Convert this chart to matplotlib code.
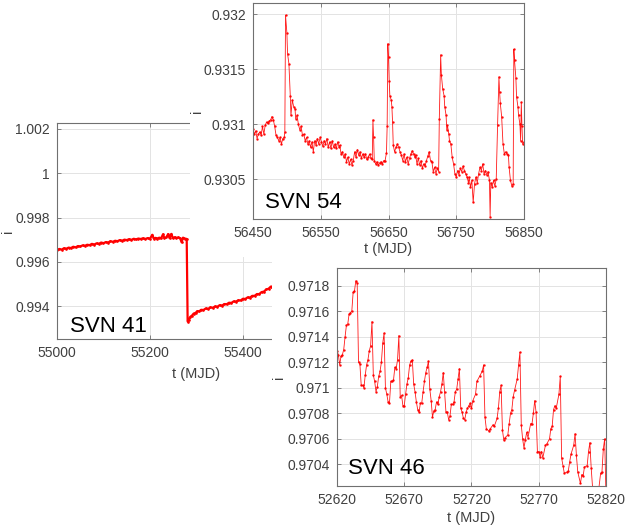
import matplotlib
matplotlib.use("Agg")
import matplotlib.pyplot as plt
from matplotlib.patches import Rectangle
from matplotlib.ticker import FormatStrFormatter

plt.rcParams['font.family'] = ['Liberation Sans', 'DejaVu Sans']

# SVN 41
t41 = [55000, 55005, 55010, 55015, 55020, 55025, 55030, 55035, 55040, 55045,
       55050, 55055, 55060, 55065, 55070, 55075, 55080, 55085, 55090, 55095,
       55100, 55105, 55110, 55115, 55120, 55125, 55130, 55135, 55140, 55145,
       55150, 55155, 55160, 55165, 55170, 55175, 55180, 55185, 55190, 55195,
       55200, 55205, 55208, 55212, 55216, 55220, 55224, 55228, 55231, 55235,
       55239, 55242, 55246, 55249, 55253, 55257, 55261, 55265, 55268, 55271,
       55275, 55279,
       55281, 55284, 55287, 55290, 55294, 55298, 55302, 55306, 55310, 55315,
       55320, 55325, 55330, 55335, 55340, 55345, 55350, 55355, 55360, 55365,
       55370, 55375, 55380, 55385, 55390, 55395, 55400, 55405, 55410, 55415,
       55420, 55425, 55430, 55435, 55440, 55445, 55450, 55455, 55460, 55463]
i41 = [0.99652, 0.99658, 0.99655, 0.99661, 0.99659, 0.99664, 0.99662, 0.99668, 0.99665, 0.99671,
       0.99669, 0.99674, 0.99672, 0.99677, 0.99675, 0.99681, 0.99678, 0.99683, 0.99681, 0.99687,
       0.99684, 0.99689, 0.99687, 0.99693, 0.99690, 0.99695, 0.99693, 0.99698, 0.99695, 0.99700,
       0.99698, 0.99702, 0.99699, 0.99704, 0.99701, 0.99705, 0.99703, 0.99706, 0.99703, 0.99707,
       0.99704, 0.99722, 0.99705, 0.99708, 0.99705, 0.99709, 0.99706, 0.99724, 0.99707, 0.99710,
       0.99725, 0.99707, 0.99726, 0.99708, 0.99711, 0.99707, 0.99710, 0.99706, 0.99688, 0.99709,
       0.99705, 0.99703,
       0.99330, 0.99338, 0.99352, 0.99356, 0.99366, 0.99369, 0.99377, 0.99376, 0.99383, 0.99382,
       0.99389, 0.99387, 0.99394, 0.99392, 0.99398, 0.99397, 0.99404, 0.99402, 0.99409, 0.99408,
       0.99415, 0.99414, 0.99421, 0.99420, 0.99426, 0.99425, 0.99433, 0.99432, 0.99439, 0.99438,
       0.99446, 0.99446, 0.99454, 0.99454, 0.99463, 0.99465, 0.99475, 0.99478, 0.99488, 0.99488]

# SVN 54
t54 = [56450, 56452, 56454, 56456, 56458, 56460, 56462, 56464, 56466, 56468,
       56470, 56472, 56474, 56476, 56478, 56480, 56482, 56484, 56486, 56488,
       56490, 56492, 56494, 56496, 56497, 56498, 56500, 56501, 56503, 56505,
       56506, 56508, 56510, 56512, 56513, 56515, 56517, 56519, 56521, 56523,
       56525, 56527, 56529, 56531, 56533, 56535, 56537, 56539, 56541, 56543,
       56545, 56547, 56549, 56551, 56553, 56555, 56557, 56559, 56561, 56563,
       56565, 56567, 56569, 56571, 56573, 56575, 56577, 56578, 56580, 56582,
       56584, 56586, 56588, 56590, 56592, 56594, 56596, 56598, 56600, 56602,
       56604, 56606, 56608, 56610, 56612, 56614, 56616, 56618, 56620, 56622,
       56624, 56626, 56627, 56628, 56629, 56631, 56633, 56635, 56637, 56639,
       56641, 56643, 56645, 56647, 56648, 56649, 56650, 56651, 56652, 56654,
       56655, 56656, 56657, 56659, 56661, 56663, 56665, 56667, 56669, 56671,
       56673, 56675, 56677, 56679, 56681, 56683, 56685, 56687, 56689, 56690,
       56692, 56694, 56696, 56698, 56700, 56702, 56704, 56706, 56708, 56710,
       56712, 56714, 56716, 56718, 56720, 56722, 56724, 56725, 56727, 56728,
       56730, 56732, 56733, 56735, 56736, 56737, 56739, 56740, 56742, 56744,
       56746, 56748, 56750, 56752, 56754, 56756, 56758, 56760, 56762, 56764,
       56766, 56768, 56769, 56771, 56773, 56775, 56777, 56779, 56781, 56783,
       56785, 56787, 56789, 56791, 56793, 56795, 56797, 56799, 56800, 56801,
       56803, 56805, 56807, 56809, 56811, 56813, 56814, 56815, 56817, 56819,
       56821, 56823, 56825, 56827, 56828, 56830, 56832, 56834, 56835, 56836,
       56838, 56839, 56841, 56842, 56844, 56845, 56846, 56847, 56848, 56850]
i54 = [0.93096, 0.93091, 0.93094, 0.93087, 0.93091, 0.93093, 0.93090, 0.93098, 0.93091, 0.93099,
       0.93102, 0.93101, 0.93103, 0.93104, 0.93107, 0.93104, 0.93098, 0.93090, 0.93088, 0.93085,
       0.93088, 0.93082, 0.93087, 0.93088, 0.93093, 0.93199, 0.93183, 0.93164, 0.93155, 0.93126,
       0.93108, 0.93122, 0.93116, 0.93114, 0.93105, 0.93108, 0.93100, 0.93095, 0.93098, 0.93090,
       0.93091, 0.93085, 0.93088, 0.93082, 0.93085, 0.93079, 0.93084, 0.93075, 0.93085, 0.93081,
       0.93087, 0.93082, 0.93088, 0.93084, 0.93080, 0.93085, 0.93082, 0.93087, 0.93079, 0.93084,
       0.93078, 0.93085, 0.93079, 0.93082, 0.93078, 0.93084, 0.93079, 0.93081, 0.93073, 0.93075,
       0.93070, 0.93073, 0.93066, 0.93070, 0.93064, 0.93068, 0.93063, 0.93067, 0.93075, 0.93070,
       0.93077, 0.93072, 0.93075, 0.93069, 0.93073, 0.93070, 0.93073, 0.93068, 0.93070, 0.93073,
       0.93069, 0.93068, 0.93104, 0.93088, 0.93067, 0.93064, 0.93066, 0.93063, 0.93065, 0.93066,
       0.93064, 0.93067, 0.93067, 0.93074, 0.93098, 0.93173, 0.93161, 0.93139, 0.93126, 0.93122,
       0.93116, 0.93102, 0.93081, 0.93075, 0.93079, 0.93082, 0.93079, 0.93075, 0.93072, 0.93067,
       0.93073, 0.93066, 0.93070, 0.93064, 0.93069, 0.93073, 0.93076, 0.93073, 0.93070, 0.93072,
       0.93064, 0.93069, 0.93063, 0.93067, 0.93060, 0.93064, 0.93062, 0.93067, 0.93071, 0.93075,
       0.93067, 0.93066, 0.93057, 0.93061, 0.93055, 0.93060, 0.93057, 0.93105, 0.93163, 0.93145,
       0.93132, 0.93126, 0.93116, 0.93108, 0.93095, 0.93099, 0.93091, 0.93085, 0.93082, 0.93070,
       0.93064, 0.93055, 0.93052, 0.93058, 0.93054, 0.93060, 0.93057, 0.93062, 0.93058, 0.93055,
       0.93052, 0.93047, 0.93052, 0.93043, 0.93049, 0.93029, 0.93046, 0.93052, 0.93047, 0.93055,
       0.93061, 0.93058, 0.93064, 0.93055, 0.93058, 0.93054, 0.93057, 0.93049, 0.93016, 0.93047,
       0.93043, 0.93049, 0.93044, 0.93050, 0.93099, 0.93143, 0.93129, 0.93119, 0.93107, 0.93082,
       0.93073, 0.93075, 0.93073, 0.93072, 0.93061, 0.93049, 0.93044, 0.93046, 0.93168, 0.93158,
       0.93142, 0.93125, 0.93116, 0.93108, 0.93100, 0.93085, 0.93120, 0.93098, 0.93082, 0.93084]

# SVN 46
t46 = [52620, 52621, 52622, 52623, 52624, 52625, 52626, 52627, 52628, 52629,
       52630, 52631, 52632, 52633, 52634, 52635, 52636, 52637, 52638, 52639,
       52640, 52641, 52642, 52643, 52644, 52645, 52646, 52647, 52648, 52649,
       52650, 52651, 52652, 52653, 52654, 52655, 52656, 52657, 52658, 52659,
       52660, 52661, 52662, 52663, 52664, 52665, 52666, 52667, 52668, 52669,
       52670, 52671, 52672, 52673, 52674, 52675, 52676, 52677, 52678, 52679,
       52680, 52681, 52682, 52683, 52684, 52685, 52686, 52687, 52688, 52689,
       52690, 52691, 52692, 52693, 52694, 52695, 52696, 52697, 52698, 52699,
       52700, 52701, 52702, 52703, 52704, 52705, 52706, 52707, 52708, 52709,
       52710, 52711, 52712, 52713, 52714, 52715, 52716, 52717, 52718, 52719,
       52720, 52721, 52723, 52724, 52726, 52728, 52729, 52730, 52731, 52733,
       52734, 52736, 52737, 52739, 52740, 52741, 52742, 52743, 52744, 52745,
       52747, 52748, 52749, 52750, 52751, 52752, 52754, 52755, 52756, 52757,
       52758, 52759, 52760, 52761, 52762, 52764, 52765, 52766, 52767, 52768,
       52769, 52770, 52771, 52772, 52773, 52775, 52776, 52778, 52779, 52780,
       52781, 52782, 52783, 52785, 52786, 52787, 52788, 52789, 52791, 52792,
       52793, 52794, 52796, 52797, 52798, 52799, 52801, 52802, 52803, 52804,
       52806, 52807, 52808, 52809, 52810, 52812, 52814, 52816, 52817, 52818,
       52819, 52820]
i46 = [0.97129, 0.97126, 0.97118, 0.97125, 0.97126, 0.97130, 0.97140, 0.97149, 0.97150, 0.97158,
       0.97159, 0.97160, 0.97175, 0.97176, 0.97184, 0.97182, 0.97120, 0.97119, 0.97102, 0.97102,
       0.97100, 0.97110, 0.97118, 0.97122, 0.97129, 0.97133, 0.97152, 0.97110, 0.97105, 0.97097,
       0.97101, 0.97109, 0.97113, 0.97120, 0.97135, 0.97143, 0.97100, 0.97095, 0.97089, 0.97088,
       0.97105, 0.97105, 0.97106, 0.97116, 0.97115, 0.97122, 0.97141, 0.97093, 0.97094, 0.97086,
       0.97086, 0.97095, 0.97103, 0.97108, 0.97118, 0.97121, 0.97122, 0.97103, 0.97097, 0.97089,
       0.97083, 0.97081, 0.97088, 0.97088, 0.97097, 0.97105, 0.97112, 0.97116, 0.97121, 0.97099,
       0.97090, 0.97077, 0.97082, 0.97083, 0.97089, 0.97087, 0.97093, 0.97097, 0.97103, 0.97112,
       0.97097, 0.97081, 0.97081, 0.97075, 0.97078, 0.97087, 0.97087, 0.97089, 0.97097, 0.97099,
       0.97107, 0.97115, 0.97084, 0.97081, 0.97076, 0.97075, 0.97081, 0.97084, 0.97086, 0.97088,
       0.97084, 0.97090, 0.97095, 0.97105, 0.97109, 0.97113, 0.97118, 0.97077, 0.97068, 0.97066,
       0.97068, 0.97071, 0.97070, 0.97076, 0.97084, 0.97097, 0.97102, 0.97067, 0.97059, 0.97061,
       0.97063, 0.97072, 0.97080, 0.97083, 0.97093, 0.97098, 0.97107, 0.97118, 0.97128, 0.97071,
       0.97060, 0.97053, 0.97059, 0.97065, 0.97061, 0.97072, 0.97072, 0.97080, 0.97090, 0.97081,
       0.97050, 0.97050, 0.97046, 0.97050, 0.97045, 0.97055, 0.97056, 0.97060, 0.97068, 0.97070,
       0.97083, 0.97086, 0.97084, 0.97095, 0.97109, 0.97045, 0.97039, 0.97033, 0.97034, 0.97035,
       0.97042, 0.97048, 0.97055, 0.97064, 0.97047, 0.97034, 0.97025, 0.97032, 0.97031, 0.97038,
       0.97039, 0.97050, 0.97057, 0.97037, 0.97022, 0.97012, 0.97015, 0.97033, 0.97034, 0.97052,
       0.97060, 0.97015]

W, H = 625, 531
fig = plt.figure(figsize=(W / 100, H / 100), dpi=100)


def px_axes(x0, y0, x1, y1, z):
    # pixel box (top-left origin) -> figure axes
    ax = fig.add_axes([x0 / W, 1 - y1 / H, (x1 - x0) / W, (y1 - y0) / H])
    ax.set_zorder(z)
    return ax


def px_block(x0, y0, x1, y1, z):
    r = Rectangle((x0 / W, 1 - y1 / H), (x1 - x0) / W, (y1 - y0) / H,
                  transform=fig.transFigure, facecolor='white', edgecolor='none', zorder=z)
    fig.add_artist(r)


def style(ax):
    ax.grid(True, color='#e3e3e3', linewidth=0.7)
    ax.set_axisbelow(True)
    for s in ax.spines.values():
        s.set_color('#707070')
        s.set_linewidth(0.8)
    ax.tick_params(direction='in', length=3, width=0.6, color='#707070',
                   top=True, right=True, labelsize=10, labelcolor='#404040', pad=5)
    ax.yaxis.set_major_formatter(FormatStrFormatter('%g'))


# left panel
ax1 = px_axes(57, 123, 335, 339, 0)
ax1.plot(t41, i41, color='red', linewidth=1.6, marker='.', markersize=1.8)
ax1.set_xlim(55000, 55598)
ax1.set_ylim(0.99251, 1.00227)
ax1.set_xticks([55000, 55200, 55400])
ax1.set_yticks([0.994, 0.996, 0.998, 1.0, 1.002])
style(ax1)
ax1.set_xlabel('t (MJD)', fontsize=10.5, color='#404040')
ax1.xaxis.set_label_coords(0.5, -0.13)
ax1.set_ylabel('i', fontsize=10.5, color='#404040')
ax1.yaxis.set_label_coords(-0.15, 0.5)
ax1.text(0.047, 0.032, 'SVN 41', transform=ax1.transAxes, fontsize=16, va='baseline')

px_block(190, 0, 625, 257, 1)

# top-right panel
ax2 = px_axes(253, 3, 524, 219, 2)
ax2.plot(t54, i54, color='red', linewidth=0.6, alpha=0.9, marker='.', markersize=1.5)
ax2.set_xlim(56450, 56850)
ax2.set_ylim(0.93014, 0.9321)
ax2.set_xticks([56450, 56550, 56650, 56750, 56850])
ax2.set_yticks([0.9305, 0.931, 0.9315, 0.932])
style(ax2)
ax2.set_xlabel('t (MJD)', fontsize=10.5, color='#404040')
ax2.xaxis.set_label_coords(0.5, -0.105)
ax2.set_ylabel('i', fontsize=10.5, color='#404040')
ax2.yaxis.set_label_coords(-0.18, 0.5)
ax2.text(0.044, 0.051, 'SVN 54', transform=ax2.transAxes, fontsize=16, va='baseline')

px_block(272, 257, 625, 531, 3)

# bottom-right panel
ax3 = px_axes(337, 268, 606, 486, 4)
ax3.plot(t46, i46, color='red', linewidth=0.6, alpha=0.9, marker='.', markersize=1.5)
ax3.set_xlim(52620, 52820)
ax3.set_ylim(0.97023, 0.97194)
ax3.set_xticks([52620, 52670, 52720, 52770, 52820])
ax3.set_yticks([0.9704, 0.9706, 0.9708, 0.971, 0.9712, 0.9714, 0.9716, 0.9718])
style(ax3)
ax3.set_xlabel('t (MJD)', fontsize=10.5, color='#404040')
ax3.xaxis.set_label_coords(0.5, -0.115)
ax3.set_ylabel('i', fontsize=10.5, color='#404040')
ax3.yaxis.set_label_coords(-0.19, 0.5)
ax3.text(0.041, 0.055, 'SVN 46', transform=ax3.transAxes, fontsize=16, va='baseline')

fig.savefig('out.png', dpi=100)
